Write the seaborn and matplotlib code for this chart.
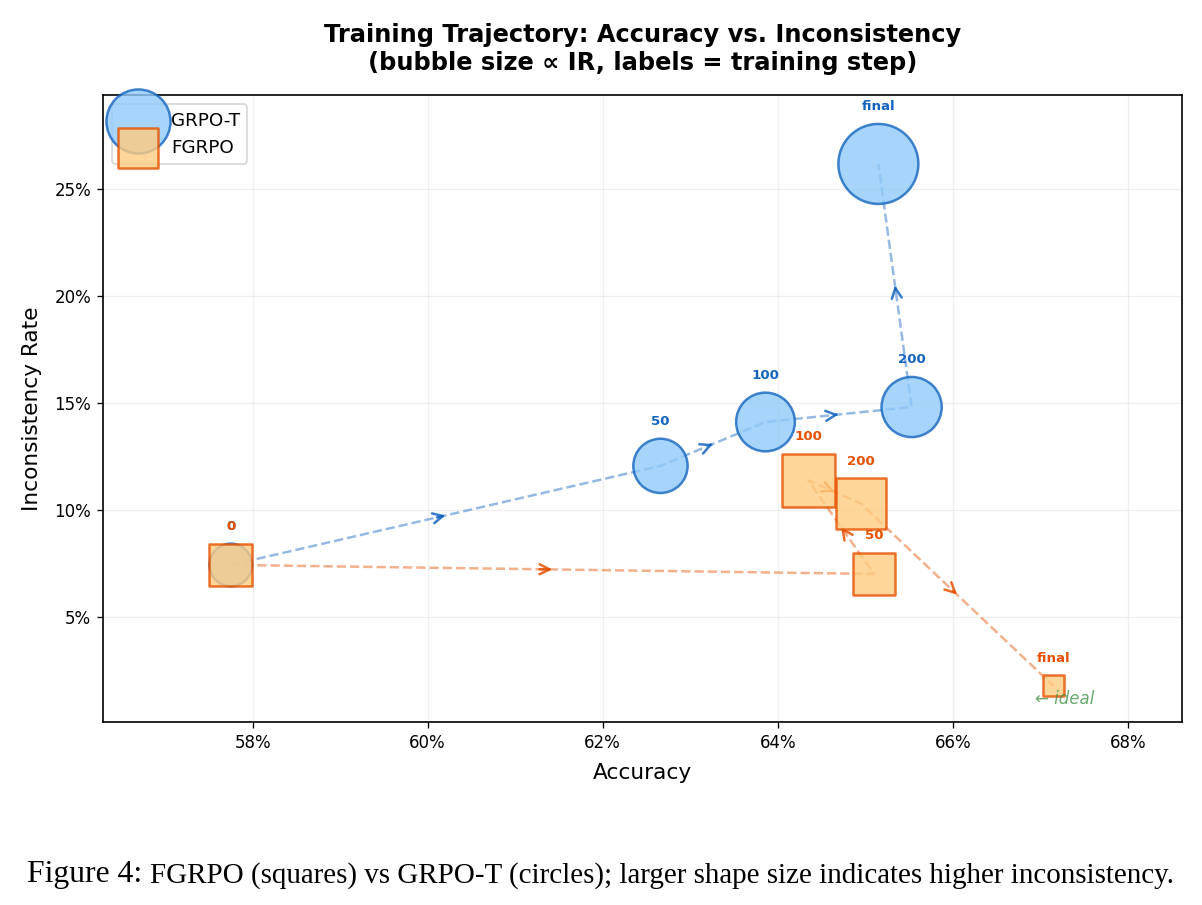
import matplotlib
matplotlib.use("Agg")
import matplotlib.pyplot as plt
import seaborn as sns
import numpy as np
import pandas as pd
from matplotlib.ticker import FuncFormatter

# training steps (shared by both runs)
steps = ["0", "50", "100", "200", "final"]

# GRPO-T trajectory (accuracy %, inconsistency rate %)
grpo_acc = [57.75, 62.66, 63.86, 65.53, 65.15]
grpo_ir = [7.43, 12.06, 14.11, 14.81, 26.17]

# FGRPO trajectory
fgrpo_acc = [57.75, 65.10, 64.35, 64.95, 67.15]
fgrpo_ir = [7.43, 7.01, 11.38, 10.30, 1.78]

SIZE_K = 88  # bubble area (pt^2) per IR point

sns.set_style("ticks")
plt.rcParams["font.family"] = ["DejaVu Sans"]
plt.rcParams.update({"text.color": "black", "axes.labelcolor": "black",
                     "xtick.color": "black", "ytick.color": "black"})

fig = plt.figure(figsize=(1202 / 120, 905 / 120), dpi=120)
ax = fig.add_axes([0.0857, 0.2022, 0.8977, 0.6928])

series = [
    ("GRPO-T", grpo_acc, grpo_ir, "o", "#90CAF9", "#1565C0"),
    ("FGRPO", fgrpo_acc, fgrpo_ir, "s", "#FFCC80", "#E65100"),
]

for name, acc, ir, marker, fill, edge in series:
    df = pd.DataFrame({"acc": acc, "ir": ir, "step": steps})
    df["size"] = df["ir"] * SIZE_K

    # dashed trajectory
    sns.lineplot(data=df, x="acc", y="ir", sort=False, estimator=None,
                 color=edge, alpha=0.45, linestyle="--", linewidth=1.5,
                 ax=ax, zorder=1)

    # arrow heads at segment midpoints
    for i in range(len(df) - 1):
        x0, y0 = df["acc"][i], df["ir"][i]
        x1, y1 = df["acc"][i + 1], df["ir"][i + 1]
        tip = (x0 + 0.5 * (x1 - x0), y0 + 0.5 * (y1 - y0))
        tail = (x0 + 0.48 * (x1 - x0), y0 + 0.48 * (y1 - y0))
        ax.annotate("", xy=tip, xytext=tail,
                    arrowprops=dict(arrowstyle="->", color=edge, lw=1.5,
                                    mutation_scale=15, shrinkA=0, shrinkB=0,
                                    alpha=0.85),
                    zorder=2)

    # bubbles
    sns.scatterplot(data=df, x="acc", y="ir", s=df["size"].values,
                    marker=marker, color=fill, edgecolor=edge, linewidth=1.5,
                    alpha=0.8, label=name, ax=ax, zorder=3)

    # step labels above each marker
    for _, row in df.iterrows():
        r = np.sqrt(row["size"]) / 2
        ax.annotate(row["step"], xy=(row["acc"], row["ir"]),
                    xytext=(0, r + 6.5), textcoords="offset points",
                    ha="center", va="bottom", fontsize=8,
                    fontweight="bold", color=edge, zorder=5)

ax.text(66.94, 1.17, "\u2190 ideal", ha="left", va="center",
        fontsize=10, style="italic", color="#388E3C", alpha=0.75)

ax.set_xlim(56.29, 68.62)
ax.set_ylim(0.09, 29.39)
ax.set_xticks([58, 60, 62, 64, 66, 68])
ax.set_yticks([5, 10, 15, 20, 25])
pct = FuncFormatter(lambda v, _: f"{v:.0f}%")
ax.xaxis.set_major_formatter(pct)
ax.yaxis.set_major_formatter(pct)
ax.tick_params(labelsize=10, color="black")
for sp in ax.spines.values():
    sp.set_color("black")
    sp.set_linewidth(1.0)
ax.grid(True, alpha=0.3)

ax.set_xlabel("Accuracy", fontsize=13, labelpad=6.5)
ax.set_ylabel("Inconsistency Rate", fontsize=13, labelpad=7.5)
ax.set_title("Training Trajectory: Accuracy vs. Inconsistency\n"
             "(bubble size \u221d IR, labels = training step)",
             fontsize=14.5, fontweight="bold", pad=15)

ax.legend(loc="upper left", fontsize=11)

# paper caption under the chart
cap_font = ["Liberation Serif", "DejaVu Serif"]
fig.canvas.draw()
renderer = fig.canvas.get_renderer()
t1 = fig.text(0.0225, 0.025, "Figure 4:", fontsize=19, family=cap_font,
              ha="left", va="baseline")
bb = t1.get_window_extent(renderer)
x2 = (bb.x1 + 8) / fig.bbox.width
fig.text(x2, 0.025, "FGRPO (squares) vs GRPO-T (circles); larger shape size "
         "indicates higher inconsistency.", fontsize=17.4, family=cap_font,
         ha="left", va="baseline")

fig.savefig("out.png", dpi=120)
